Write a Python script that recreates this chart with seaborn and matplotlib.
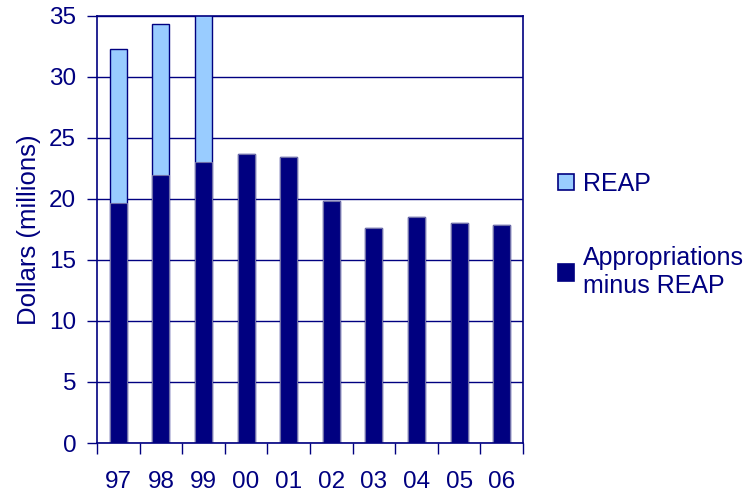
import numpy as np
import pandas as pd
import matplotlib.pyplot as plt
import seaborn as sns
from matplotlib.patches import Patch

years = ['97', '98', '99', '00', '01', '02', '03', '04', '05', '06']
base = [19.7, 22.0, 23.0, 23.7, 23.4, 19.8, 17.6, 18.5, 18.0, 17.9]
reap = [12.6, 12.3, 13.0, 0, 0, 0, 0, 0, 0, 0]

navy = '#000080'
light = '#99ccff'

df = pd.DataFrame({'year': years, 'base': base, 'reap': reap})
df['total'] = df['base'] + df['reap']

sns.set_theme(style='white')
plt.rcParams['font.family'] = ['Liberation Sans', 'DejaVu Sans']

fig = plt.figure(figsize=(7.48, 4.95), dpi=100)
ax = fig.add_axes([0.1297, 0.105, 0.5695, 0.863])

sns.barplot(data=df, x='year', y='total', order=years, color=light, width=0.4,
            edgecolor=navy, linewidth=1.0, saturation=1, ax=ax)
sns.barplot(data=df, x='year', y='base', order=years, color=navy, width=0.4,
            edgecolor='#7070a8', linewidth=0.8, saturation=1, ax=ax)

ax.set_ylim(0, 35)
ax.set_xlim(-0.5, len(years) - 0.5)
ax.set_yticks(np.arange(0, 36, 5))
ax.yaxis.grid(True, color=navy, lw=1)
ax.set_axisbelow(True)
for s in ax.spines.values():
    s.set_color(navy)
    s.set_linewidth(1.2)

ax.set_xticks(np.arange(-0.5, len(years)), minor=True)
ax.tick_params(axis='x', which='major', length=0, pad=20, labelsize=17.5, labelcolor=navy)
ax.tick_params(axis='x', which='minor', length=8, color=navy, width=1, bottom=True, direction='out')
ax.tick_params(axis='y', length=7, color=navy, width=1, pad=8, labelsize=17.5, labelcolor=navy,
               left=True, direction='out')

ax.set_xlabel('')
ax.set_ylabel('Dollars (millions)', fontsize=18.5, color=navy, labelpad=6)

handles = [Patch(facecolor=light, edgecolor=navy, lw=1.2),
           Patch(facecolor=navy, edgecolor=navy, lw=1.2)]
leg = fig.legend(handles, ['REAP', 'Appropriations\nminus REAP'],
                 loc='upper left', bbox_to_anchor=(0.746, 0.653), frameon=False,
                 fontsize=18, labelspacing=2.0, handlelength=0.64, handleheight=0.64,
                 handletextpad=0.35, borderpad=0, borderaxespad=0)
for t in leg.get_texts():
    t.set_color(navy)

fig.savefig('out.png', dpi=100)
